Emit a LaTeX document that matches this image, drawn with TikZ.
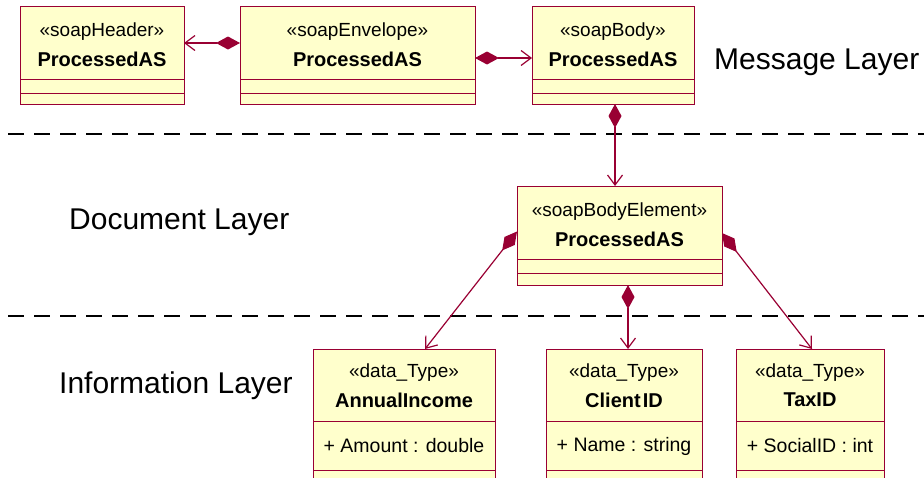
\documentclass[tikz,border=0pt]{standalone}
\usepackage{fontspec}
\setmainfont{Liberation Sans}
\usetikzlibrary{arrows.meta}
\definecolor{umlred}{RGB}{153,0,51}
\definecolor{umlfill}{RGB}{255,255,204}
\begin{document}
\begin{tikzpicture}[x=1pt,y=-1pt,
 umlbox/.style={draw=umlred, fill=umlfill, line width=0.9pt, anchor=north west, inner sep=0pt, outer sep=0pt},
 divider/.style={draw=umlred, line width=0.9pt},
 stereo/.style={font=\fontsize{19}{21}\selectfont, inner sep=0pt},
 cname/.style={font=\fontsize{20}{22}\selectfont\bfseries, inner sep=0pt},
 attr/.style={font=\fontsize{19.5}{21}\selectfont, inner sep=0pt},
 layer/.style={font=\fontsize{30}{33}\selectfont, anchor=west, inner sep=0pt},
 sep/.style={black, line width=1.4pt, dash pattern=on 16pt off 10pt},
 comp/.style={umlred, line width=1.2pt, {Diamond[length=24pt,width=13pt,fill=umlred]}-{Straight Barb[length=10pt,width=15pt]}}
]
\useasboundingbox (0,0) rectangle (924,477);
\clip (0,0) rectangle (924,477);

% separators
\draw[sep] (8,134) -- (924,134);
\draw[sep] (8,316) -- (924,316);

% layer labels
\node[layer] (lmsg) at (714,62) {Message Layer};
\node[layer] (ldoc) at (69,222) {Document Layer};
\node[layer] (linf) at (59,386) {Information Layer};

% soapHeader
\node[umlbox, minimum width=164pt, minimum height=98pt] (hdr) at (20,6) {};
\draw[divider] (20,79) -- (184,79) (20,93) -- (184,93);
\node[stereo] (hdrs) at (102,31.5) {«soapHeader»};
\node[cname] (hdrn) at (102,59) {ProcessedAS};

% soapEnvelope
\node[umlbox, minimum width=235pt, minimum height=98pt] (env) at (240,6) {};
\draw[divider] (240,79) -- (475,79) (240,93) -- (475,93);
\node[stereo] (envs) at (357.5,31.5) {«soapEnvelope»};
\node[cname] (envn) at (357.5,59) {ProcessedAS};

% soapBody
\node[umlbox, minimum width=162pt, minimum height=98pt] (body) at (532,6) {};
\draw[divider] (532,79) -- (694,79) (532,93) -- (694,93);
\node[stereo] (bodys) at (613,31.5) {«soapBody»};
\node[cname] (bodyn) at (613,59) {ProcessedAS};

% soapBodyElement
\node[umlbox, minimum width=205pt, minimum height=99pt] (be) at (517,186) {};
\draw[divider] (517,259) -- (722,259) (517,273) -- (722,273);
\node[stereo] (bes) at (619.5,211.5) {«soapBodyElement»};
\node[cname] (ben) at (619.5,239.5) {ProcessedAS};

% AnnualIncome
\node[umlbox, minimum width=182pt, minimum height=150pt] (ai) at (313,349) {};
\draw[divider] (313,421.5) -- (495,421.5) (313,470) -- (495,470);
\node[stereo] (ais) at (404,373) {«data\_Type»};
\node[cname] (ain) at (404,400) {AnnualIncome};
\node[attr] (aia) at (404,446) {+ Amount : double};

% ClientID
\node[umlbox, minimum width=156pt, minimum height=150pt] (ci) at (546,349) {};
\draw[divider] (546,421.5) -- (702,421.5) (546,470) -- (702,470);
\node[stereo] (cis) at (624,373) {«data\_Type»};
\node[cname] (cin) at (624,400) {Client\hspace{2pt}ID};
\node[attr] (cia) at (624,446) {+ Name : string};

% TaxID
\node[umlbox, minimum width=148pt, minimum height=150pt] (tax) at (736,349) {};
\draw[divider] (736,421.5) -- (884,421.5) (736,470) -- (884,470);
\node[stereo] (taxs) at (810,373) {«data\_Type»};
\node[cname] (taxn) at (810,400) {TaxID};
\node[attr] (taxa) at (810,446) {+ SocialID : int};

% connectors
\draw[comp] ([yshift=12pt]env.west) -- ([yshift=12pt]env.west -| hdr.east);
\draw[comp] ([yshift=-3pt]env.east) -- ([yshift=-3pt]env.east -| body.west);
\draw[comp] ([xshift=2pt]body.south) -- ([xshift=2pt]body.south |- be.north);
\draw[comp] ([yshift=4pt]be.west) -- ([xshift=21pt]ai.north);
\draw[comp] ([xshift=8.5pt]be.south) -- ([xshift=8.5pt]be.south |- ci.north);
\draw[comp] ([yshift=2.5pt]be.east) -- ([xshift=2pt]tax.north);
\end{tikzpicture}
\end{document}
